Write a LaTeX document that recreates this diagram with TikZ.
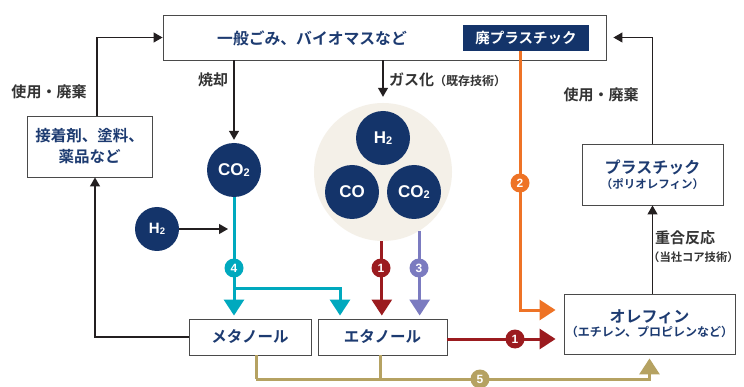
\documentclass[tikz,border=0pt]{standalone}
\usepackage{fontspec}
\setmainfont{Liberation Sans}
\newfontfamily\jp{Noto Sans CJK JP}[BoldFont={Noto Sans CJK JP Bold}]
\usetikzlibrary{arrows.meta,calc}
\definecolor{navy}{HTML}{14346A}
\definecolor{navytxt}{HTML}{1D3B71}
\definecolor{boxline}{HTML}{4A4A4A}
\definecolor{lineblk}{HTML}{231F20}
\definecolor{lbltxt}{HTML}{333333}
\definecolor{teal}{HTML}{00A9BE}
\definecolor{dred}{HTML}{9B1B1F}
\definecolor{purp}{HTML}{7B7BC0}
\definecolor{orng}{HTML}{EE7326}
\definecolor{gold}{HTML}{B5A262}
\definecolor{beige}{HTML}{F4F0E8}
\newcommand{\mysub}[1]{\raisebox{-0.5pt}{\fontsize{11}{11}\selectfont #1}}
\newcommand{\mysubs}[1]{\raisebox{-0.5pt}{\fontsize{9.5}{9.5}\selectfont #1}}
\begin{document}
\begin{tikzpicture}[x=1pt,y=-1pt,
  box/.style={draw=boxline, line width=0.9pt, fill=white, inner sep=0, text=navytxt, align=center},
  big/.style={font=\jp\bfseries\fontsize{15.5}{21}\selectfont},
  mol/.style={circle, fill=navy, text=white, inner sep=0, minimum size=54, font=\bfseries\fontsize{17}{17}\selectfont},
  badge/.style={circle, fill=#1, text=white, inner sep=0, minimum size=19, font=\bfseries\fontsize{12}{12}\selectfont},
  blk/.style={draw=lineblk, line width=1.2pt, -{Triangle[width=10pt,length=9pt]}},
  col/.style={draw=#1, line width=3pt, -{Triangle[width=20pt,length=16pt]}},
  lbl/.style={text=lbltxt, inner sep=0, font=\jp\bfseries\fontsize{15}{17}\selectfont},
  lbls/.style={text=lbltxt, inner sep=0, font=\jp\bfseries\fontsize{11.3}{14}\selectfont}
]
\fill[white] (0,0) rectangle (744,387);
\useasboundingbox (0,0) rectangle (744,387);

% boxes
\node[box, minimum width=443, minimum height=45] (top) at (384.5,37.5) {};
\node[text=navytxt, inner sep=0, font=\jp\bfseries\fontsize{15.8}{18}\selectfont] (toptxt) at (312,38) {一般ごみ、バイオマスなど};
\node[fill=navy, text=white, inner sep=0, minimum width=126, minimum height=26, font=\jp\bfseries\fontsize{14.5}{16}\selectfont] (hai) at (526,38) {廃プラスチック};
\node[box, big, minimum width=125, minimum height=61] (lbox) at (89.5,146.5) {接着剤、塗料、\\薬品など};
\node[box, minimum width=141, minimum height=61] (plas) at (652.5,174.5) {{\jp\bfseries\fontsize{16}{18}\selectfont プラスチック}\\[3pt]{\jp\bfseries\fontsize{11.5}{14}\selectfont （ポリオレフィン）}};
\node[box, minimum width=171, minimum height=60] (ole) at (649.5,324) {{\jp\bfseries\fontsize{16}{18}\selectfont オレフィン}\\[2pt]{\jp\bfseries\fontsize{12}{14}\selectfont （エチレン、プロピレンなど）}};
\node[box, big, minimum width=122, minimum height=36] (meth) at (250,337) {メタノール};
\node[box, big, minimum width=129, minimum height=36] (eth) at (382.5,337) {エタノール};

% molecules
\node[mol] (co2L) at (234,170) {CO\mysub{2}};
\node[mol, minimum size=44, font=\bfseries\fontsize{15}{15}\selectfont] (h2L) at (157,229) {H\mysubs{2}};
\node[circle, fill=beige, minimum size=138, inner sep=0] (gas) at (383,172) {};
\node[mol] (h2) at (383,138) {H\mysub{2}};
\node[mol] (co) at (352,192) {CO};
\node[mol] (co2) at (414,192) {CO\mysub{2}};

% labels
\node[lbl] (l1) at (49,92) {使用・廃棄};
\node[lbl] (l2) at (213,80) {焼却};
\node[lbl, anchor=west] (l3) at (389,80) {ガス化{\fontsize{12}{14}\selectfont （既存技術）}};
\node[lbl] (l4) at (601,95) {使用・廃棄};
\node[lbl, anchor=west] (l5) at (655,238) {重合反応};
\node[lbls, anchor=west] (l6) at (648,257) {（当社コア技術）};

% black connectors
\draw[blk] ([xshift=7.5]lbox.north) |- (top.west);
\draw[blk, shorten >=7] (plas.north) |- (top.east);
\draw[blk, shorten >=3] (top.south -| co2L) -- (co2L.north);
\draw[blk, shorten >=6] (top.south -| gas) -- (gas.north);
\draw[blk, shorten >=6] (h2L.east) -- (h2L.east -| co2L);
\draw[blk] (ole.north -| plas.south) -- (plas.south);
\draw[blk] (meth.west) -| ([xshift=5.5]lbox.south);

% teal (4)
\coordinate (tb) at ($(co2L.south)+(0,91)$);
\draw[col=teal, -] (co2L.south) -- (tb);
\draw[col=teal, shorten >=3] (tb) -- (tb |- meth.north);
\draw[col=teal, shorten >=3, line join=miter] (tb) -| ([xshift=-42.5]eth.north);
\node[badge=teal] (b4) at (234,268) {4};

% dark red (1) and purple (3)
\draw[col=dred, shorten >=3] (gas.-91.7) -- (gas.-91.7 |- eth.north);
\node[badge=dred] (b1a) at (381,268) {1};
\draw[col=purp, shorten >=3] (gas.-58.5) -- (gas.-58.5 |- eth.north);
\node[badge=purp] (b3) at (419,268) {3};
\draw[col=dred, shorten >=8] ([yshift=-2]eth.east) -- ([yshift=-2]eth.east -| ole.west);
\node[badge=dred] (b1b) at (515,339) {1};

% orange (2)
\draw[col=orng, shorten >=8, line join=miter] ([xshift=-6]hai.south) |- ([yshift=14]ole.west);
\node[badge=orng] (b2) at (520,183) {2};

% gold (5)
\coordinate (gl) at ($(meth.south)+(6,24)$);
\draw[col=gold, -, line join=miter] ([xshift=6]meth.south) -- (gl);
\draw[col=gold, -] ([xshift=-2.5]eth.south) -- ([xshift=-2.5]eth.south |- gl);
\draw[col=gold, shorten >=4, line join=miter] (gl) -| (ole.south);
\node[badge=gold] (b5) at (480,379) {5};
\end{tikzpicture}
\end{document}
